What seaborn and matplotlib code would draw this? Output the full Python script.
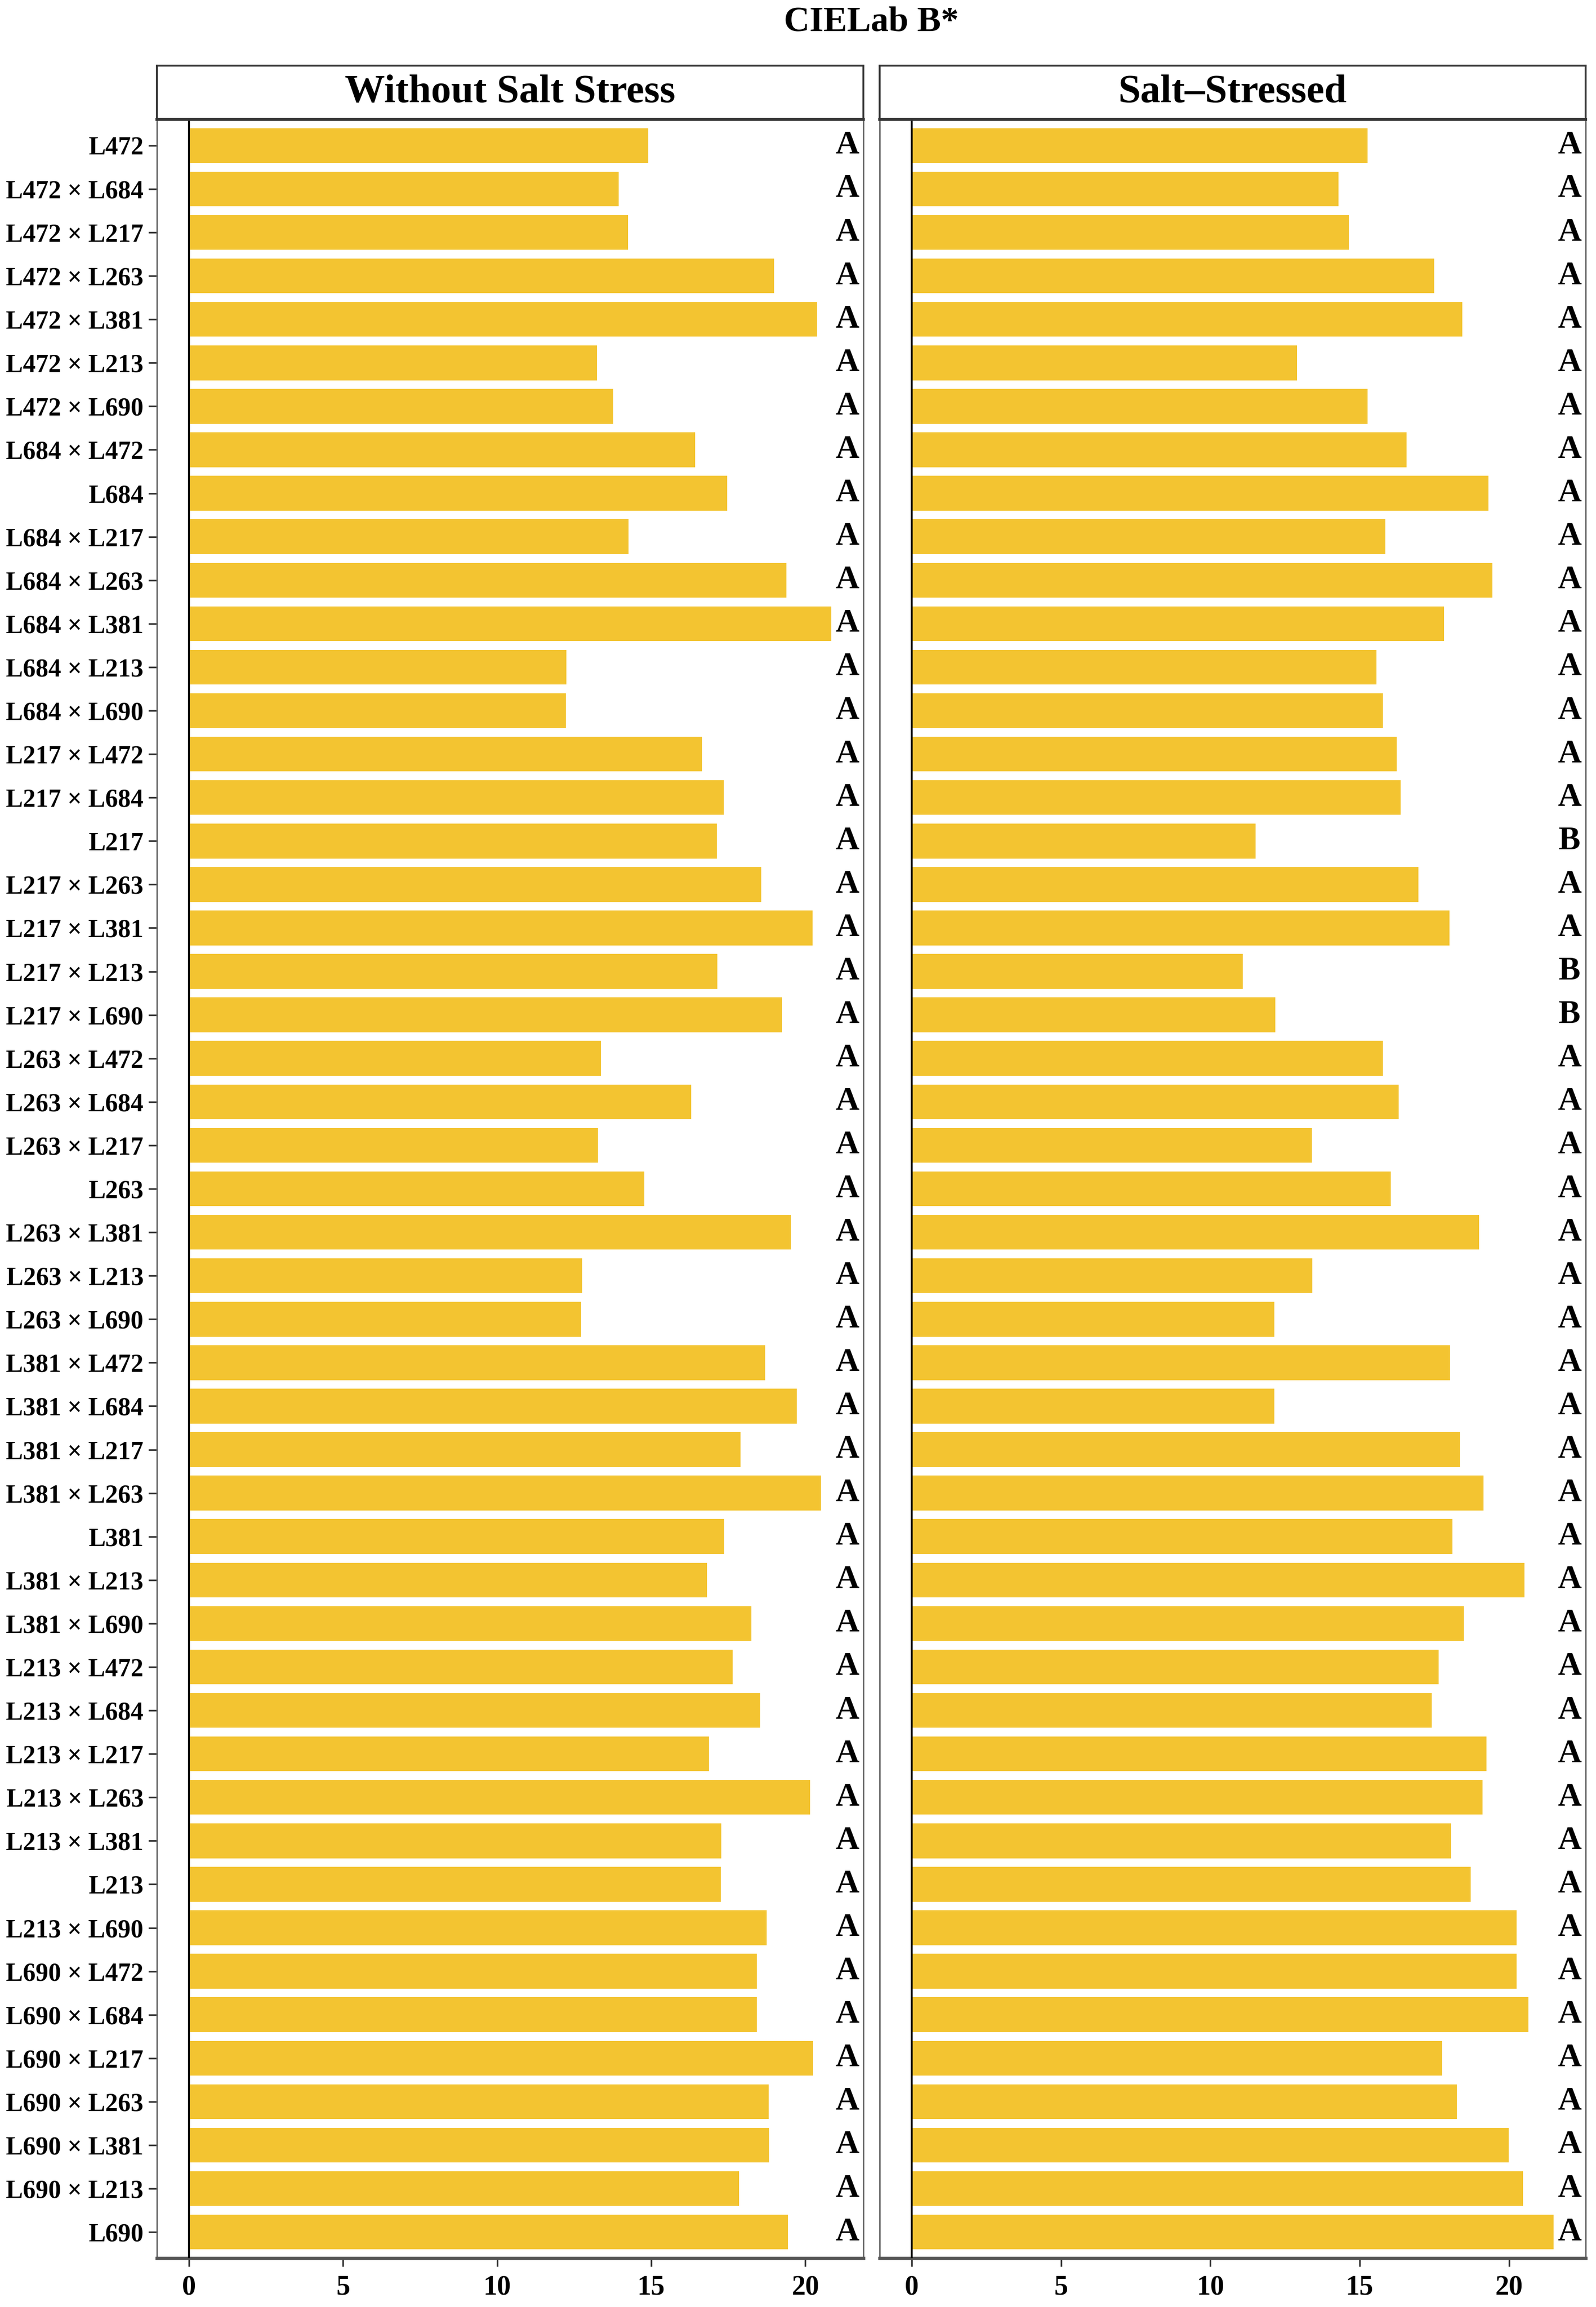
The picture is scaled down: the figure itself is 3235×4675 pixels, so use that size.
import matplotlib
matplotlib.use("Agg")
import matplotlib.pyplot as plt
import seaborn as sns
import pandas as pd

# ---------------- data ----------------
genotypes = [
    "L472", "L472 × L684", "L472 × L217", "L472 × L263", "L472 × L381", "L472 × L213", "L472 × L690",
    "L684 × L472", "L684", "L684 × L217", "L684 × L263", "L684 × L381", "L684 × L213", "L684 × L690",
    "L217 × L472", "L217 × L684", "L217", "L217 × L263", "L217 × L381", "L217 × L213", "L217 × L690",
    "L263 × L472", "L263 × L684", "L263 × L217", "L263", "L263 × L381", "L263 × L213", "L263 × L690",
    "L381 × L472", "L381 × L684", "L381 × L217", "L381 × L263", "L381", "L381 × L213", "L381 × L690",
    "L213 × L472", "L213 × L684", "L213 × L217", "L213 × L263", "L213 × L381", "L213", "L213 × L690",
    "L690 × L472", "L690 × L684", "L690 × L217", "L690 × L263", "L690 × L381", "L690 × L213", "L690",
]

without_salt = [
    14.90, 13.94, 14.25, 18.98, 20.38, 13.23, 13.76,
    16.42, 17.46, 14.27, 19.39, 20.84, 12.25, 12.23,
    16.65, 17.35, 17.13, 18.57, 20.24, 17.15, 19.24,
    13.36, 16.30, 13.27, 14.78, 19.53, 12.75, 12.72,
    18.70, 19.72, 17.89, 20.51, 17.37, 16.81, 18.25,
    17.64, 18.53, 16.87, 20.15, 17.27, 17.25, 18.74,
    18.42, 18.42, 20.25, 18.81, 18.83, 17.84, 19.44,
]

salt_stressed = [
    15.26, 14.29, 14.64, 17.50, 18.43, 12.90, 15.26,
    16.57, 19.31, 15.86, 19.44, 17.82, 15.56, 15.78,
    16.24, 16.37, 11.52, 16.97, 18.00, 11.09, 12.18,
    15.78, 16.31, 13.39, 16.04, 18.99, 13.41, 12.14,
    18.02, 12.14, 18.35, 19.14, 18.10, 20.52, 18.48,
    17.65, 17.41, 19.24, 19.12, 18.06, 18.72, 20.26,
    20.26, 20.65, 17.76, 18.26, 19.98, 20.46, 21.49,
]

letters_without = ["A"] * 49
letters_salt = (["A"] * 16 + ["B"] + ["A"] * 2 + ["B", "B"] + ["A"] * 28)

panel_titles = ["Without Salt Stress", "Salt–Stressed"]
chart_title = "CIELab B*"
x_ticks = [0, 5, 10, 15, 20]

# ---------------- style ----------------
sns.set_style("white")
plt.rcParams["font.family"] = ["Liberation Serif", "DejaVu Serif"]
plt.rcParams["font.weight"] = "bold"
plt.rcParams["text.color"] = "black"
plt.rcParams["axes.labelcolor"] = "black"
plt.rcParams["xtick.color"] = "black"
plt.rcParams["ytick.color"] = "black"

BAR = "#F3C431"
W, H = 3235, 4675
fig = plt.figure(figsize=(W / 300, H / 300), dpi=300)

panels = [
    (318, 1432, without_salt, letters_without, panel_titles[0], True),
    (1783, 1431, salt_stressed, letters_salt, panel_titles[1], False),
]

plot_top, plot_bot = 242, 4576
strip_top = 133

for x0, w, vals, lets, title, show_y in panels:
    ax = fig.add_axes([x0 / W, 1 - plot_bot / H, w / W, (plot_bot - plot_top) / H])
    df = pd.DataFrame({"genotype": genotypes, "value": vals})
    sns.barplot(data=df, y="genotype", x="value", order=genotypes, color=BAR,
                saturation=1, width=0.8, orient="h", ax=ax, errorbar=None,
                edgecolor="none")
    vmax = max(vals)
    ax.set_xlim(-0.05 * vmax, 1.05 * vmax)
    ax.set_ylim(len(genotypes) - 0.4, -0.6)
    ax.axvline(0, color="black", lw=0.9, zorder=3)
    for i, lab in enumerate(lets):
        ax.text(1.025 * vmax, i, lab, ha="center", va="center",
                fontsize=16, fontweight="bold", color="black")
    ax.set_xlabel("")
    ax.set_ylabel("")
    ax.set_xticks(x_ticks)
    ax.set_xticklabels([str(t) for t in x_ticks], fontsize=13.5, fontweight="bold",
                       color="black")
    ax.tick_params(axis="x", length=4, width=0.8, color="#333333", pad=4, bottom=True)
    if show_y:
        ax.tick_params(axis="y", length=4, width=0.8, color="#333333", pad=2.5, left=True)
        for t in ax.get_yticklabels():
            t.set_fontsize(12.4)
            t.set_fontweight("bold")
            t.set_color("black")
    else:
        ax.set_yticks([])
    for s in ["left", "right", "top"]:
        ax.spines[s].set_color("#666666")
        ax.spines[s].set_linewidth(0.7)
    ax.spines["bottom"].set_color("#555555")
    ax.spines["bottom"].set_linewidth(1.6)
    ax.grid(False)

    # strip header
    sax = fig.add_axes([x0 / W, 1 - plot_top / H, w / W, (plot_top - strip_top) / H])
    sax.set_xticks([])
    sax.set_yticks([])
    for s in sax.spines.values():
        s.set_color("#333333")
        s.set_linewidth(0.9)
    sax.spines["bottom"].set_linewidth(1.4)
    sax.text(0.5, 0.5, title, ha="center", va="center", fontsize=19.5,
             fontweight="bold", color="black", transform=sax.transAxes)

fig.text(1766 / W, 1 - 45 / H, chart_title, ha="center", va="center",
         fontsize=17.3, fontweight="bold", color="black")

fig.savefig("out.png", dpi=300)
